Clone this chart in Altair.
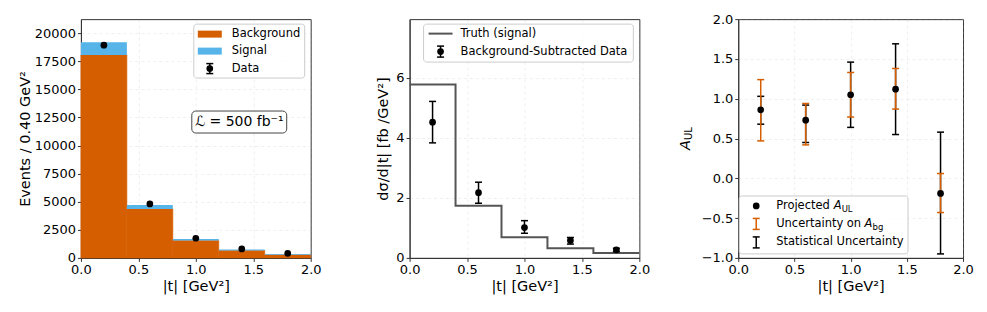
import altair as alt
import pandas as pd

FONT = "DejaVu Sans"

# ---------------- data ----------------
bin_lo = [0.0, 0.4, 0.8, 1.2, 1.6]
bin_hi = [0.4, 0.8, 1.2, 1.6, 2.0]
bin_edges = [0.0, 0.4, 0.8, 1.2, 1.6, 2.0]
t_center = [0.2, 0.6, 1.0, 1.4, 1.8]

background = [18050, 4360, 1540, 660, 280]
bg_plus_signal = [19200, 4710, 1690, 740, 350]
data_events = [18930, 4800, 1750, 800, 400]

truth_xsec = [5.77, 1.74, 0.69, 0.32, 0.16]
sub_data = [4.52, 2.17, 1.01, 0.58, 0.27]
sub_lo = [3.83, 1.82, 0.82, 0.46, 0.21]
sub_hi = [5.21, 2.52, 1.24, 0.68, 0.32]

aul = [0.86, 0.73, 1.05, 1.12, -0.19]
stat_lo = [0.68, 0.45, 0.64, 0.55, -0.95]
stat_hi = [1.03, 0.92, 1.46, 1.69, 0.58]
abg_lo = [0.47, 0.42, 0.77, 0.87, -0.43]
abg_hi = [1.24, 0.94, 1.33, 1.38, 0.06]

x_ticks = [0.0, 0.5, 1.0, 1.5, 2.0]
y1_ticks = [0, 2500, 5000, 7500, 10000, 12500, 15000, 17500, 20000]
y2_ticks = [0, 2, 4, 6]
y3_ticks = [-1.0, -0.5, 0.0, 0.5, 1.0, 1.5, 2.0]

ORANGE = "#D55E00"
BLUE = "#56B4E9"
GRAY = "#555555"

W1, W2, W3, H = 230, 230, 225, 239

one = pd.DataFrame({"a": [0]})

xaxis = alt.Axis(values=x_ticks, format=".1f", labelFlush=False, title="|t| [GeV²]",
                 grid=True, labelOverlap=False)
xscale = alt.Scale(domain=[0, 2], nice=False, zero=False)

y1axis = alt.Axis(values=y1_ticks, format="d", title="Events / 0.40 GeV²",
                  grid=True, titlePadding=2, labelOverlap=False)
y2axis = alt.Axis(values=y2_ticks, format="d", title="dσ/d|t| [fb /GeV²]",
                  grid=True, titlePadding=5, labelOverlap=False)
y3axis = alt.Axis(values=y3_ticks, format=".1f", title=None, grid=True, labelOverlap=False)


def txt(s, x, y, size=11.5, align="left", **kw):
    return alt.Chart(one).mark_text(text=s, align=align, baseline="middle", fontSize=size,
                                    font=FONT, color="black", **kw).encode(
        x=alt.value(x), y=alt.value(y))


def box(x1, x2, y1, y2, stroke="#cccccc", radius=3, opacity=0.8):
    return alt.Chart(one).mark_rect(fill="white", fillOpacity=opacity, stroke=stroke,
                                    strokeWidth=1, cornerRadius=radius).encode(
        x=alt.value(x1), x2=alt.value(x2), y=alt.value(y1), y2=alt.value(y2))


def swatch(x1, x2, y1, y2, color):
    return alt.Chart(one).mark_rect(color=color).encode(
        x=alt.value(x1), x2=alt.value(x2), y=alt.value(y1), y2=alt.value(y2))


def err_sym(x, y, half, color):
    line = alt.Chart(one).mark_rule(color=color, strokeWidth=1.5).encode(
        x=alt.value(x), y=alt.value(y - half), y2=alt.value(y + half))
    c1 = alt.Chart(one).mark_rule(color=color, strokeWidth=1.5).encode(
        x=alt.value(x - 3.5), x2=alt.value(x + 3.5), y=alt.value(y - half))
    c2 = alt.Chart(one).mark_rule(color=color, strokeWidth=1.5).encode(
        x=alt.value(x - 3.5), x2=alt.value(x + 3.5), y=alt.value(y + half))
    return [line, c1, c2]


def dot(x, y):
    return alt.Chart(one).mark_circle(color="black", opacity=1, size=45).encode(
        x=alt.value(x), y=alt.value(y))


def errbars(df, lo, hi, color, yscale, yaxis):
    base = alt.Chart(df)
    X = alt.X("t:Q", scale=xscale, axis=xaxis)
    line = base.mark_rule(color=color, strokeWidth=1.5).encode(
        x=X, y=alt.Y(f"{lo}:Q", scale=yscale, axis=yaxis), y2=f"{hi}:Q")
    cap_lo = base.mark_rule(color=color, strokeWidth=1.5, xOffset=-3.5, x2Offset=3.5).encode(
        x=X, x2="t:Q", y=alt.Y(f"{lo}:Q", scale=yscale, axis=yaxis))
    cap_hi = base.mark_rule(color=color, strokeWidth=1.5, xOffset=-3.5, x2Offset=3.5).encode(
        x=X, x2="t:Q", y=alt.Y(f"{hi}:Q", scale=yscale, axis=yaxis))
    return [line, cap_lo, cap_hi]


# ---------------- panel 1 ----------------
df1 = pd.DataFrame({"lo": bin_lo, "hi": bin_hi, "t": t_center, "zero": [0] * 5,
                    "bg": background, "tot": bg_plus_signal, "data": data_events})
y1scale = alt.Scale(domain=[0, 21250], nice=False, zero=False)
b1 = alt.Chart(df1)
bg_bars = b1.mark_rect(color=ORANGE, stroke=ORANGE, strokeWidth=0.6).encode(
    x=alt.X("lo:Q", scale=xscale, axis=xaxis), x2="hi:Q",
    y=alt.Y("zero:Q", scale=y1scale, axis=y1axis), y2="bg:Q")
sig_bars = b1.mark_rect(color=BLUE).encode(
    x=alt.X("lo:Q", scale=xscale, axis=xaxis), x2="hi:Q",
    y=alt.Y("bg:Q", scale=y1scale, axis=y1axis), y2="tot:Q")
pts1 = b1.mark_circle(color="black", opacity=1, size=45).encode(
    x=alt.X("t:Q", scale=xscale, axis=xaxis), y=alt.Y("data:Q", scale=y1scale, axis=y1axis))

leg1 = [box(113, 224, 5, 59),
        swatch(117, 141, 11.5, 18.5, ORANGE), txt("Background", 151, 15),
        swatch(117, 141, 28.5, 35.5, BLUE), txt("Signal", 151, 32),
        *err_sym(129, 49.5, 5, "black"), dot(129, 49.5), txt("Data", 151, 49.5)]
ann1 = [box(111, 206, 92, 114, stroke="#444444", radius=4, opacity=1),
        txt("ℒ = 500 fb⁻¹", 158.5, 103, size=14, align="center")]

p1 = alt.layer(bg_bars, sig_bars, pts1, *leg1, *ann1).properties(width=W1, height=H)

# ---------------- panel 2 ----------------
df2 = pd.DataFrame({"t": t_center, "v": sub_data, "lo": sub_lo, "hi": sub_hi})
dfl = pd.DataFrame({"t": bin_edges, "truth": truth_xsec + [truth_xsec[-1]]})
y2scale = alt.Scale(domain=[0, 7.95], nice=False, zero=False)
truth = alt.Chart(dfl).mark_line(color=GRAY, strokeWidth=2, interpolate="step-after").encode(
    x=alt.X("t:Q", scale=xscale, axis=xaxis),
    y=alt.Y("truth:Q", scale=y2scale, axis=y2axis))
pts2 = alt.Chart(df2).mark_circle(color="black", opacity=1, size=45).encode(
    x=alt.X("t:Q", scale=xscale, axis=xaxis), y=alt.Y("v:Q", scale=y2scale, axis=y2axis))
leg2 = [box(14, 224, 5, 43),
        alt.Chart(one).mark_rule(color=GRAY, strokeWidth=2).encode(
            x=alt.value(19), x2=alt.value(43), y=alt.value(14.5)),
        txt("Truth (signal)", 51, 14.5),
        *err_sym(31, 32.5, 5.5, "black"), dot(31, 32.5),
        txt("Background-Subtracted Data", 51, 32.5)]
p2 = alt.layer(truth, *errbars(df2, "lo", "hi", "black", y2scale, y2axis), pts2,
               *leg2).properties(width=W2, height=H)

# ---------------- panel 3 ----------------
df3 = pd.DataFrame({"t": t_center, "v": aul, "slo": stat_lo, "shi": stat_hi,
                    "blo": abg_lo, "bhi": abg_hi})
y3scale = alt.Scale(domain=[-1, 2], nice=False, zero=False)
pts3 = alt.Chart(df3).mark_circle(color="black", opacity=1, size=45).encode(
    x=alt.X("t:Q", scale=xscale, axis=xaxis), y=alt.Y("v:Q", scale=y3scale, axis=y3axis))
ytitle3 = [txt("A", -52, 126, size=14.5, align="center", angle=270, fontStyle="italic"),
           txt("UL", -49, 114.5, size=10, align="center", angle=270)]
leg3 = [box(1, 170, 177, 235),
        dot(18, 187), txt("Projected ", 38, 187),
        txt("A", 95.5, 187, fontStyle="italic"), txt("UL", 103.5, 190, size=8.5),
        *err_sym(18, 205, 5.5, ORANGE), txt("Uncertainty on ", 38, 205),
        txt("A", 126.5, 205, fontStyle="italic"), txt("bg", 134.5, 208, size=8.5),
        *err_sym(18, 223.5, 5.5, "black"), txt("Statistical Uncertainty", 38, 223.5)]
p3 = alt.layer(*errbars(df3, "slo", "shi", "black", y3scale, y3axis),
               *errbars(df3, "blo", "bhi", ORANGE, y3scale, y3axis), pts3,
               *ytitle3, *leg3).properties(width=W3, height=H)

chart = alt.hconcat(p1, p2, p3, spacing=99, bounds="flush").properties(
    padding={"left": 8, "top": 4, "right": 5, "bottom": 5}
).configure(font=FONT).configure_view(stroke="#333333", strokeWidth=1).configure_axis(
    labelFontSize=13, titleFontSize=14.5, labelColor="black", titleColor="black",
    titleFontWeight="normal", labelFont=FONT, titleFont=FONT,
    domainColor="#333333", tickColor="#333333", tickSize=3.5, labelPadding=2,
    gridColor="#b0b0b0", gridDash=[3, 3], gridOpacity=0.25, gridWidth=0.8,
).configure_axisX(titlePadding=3)

chart.save("out.html", embed_options={"renderer": "svg", "actions": False})
